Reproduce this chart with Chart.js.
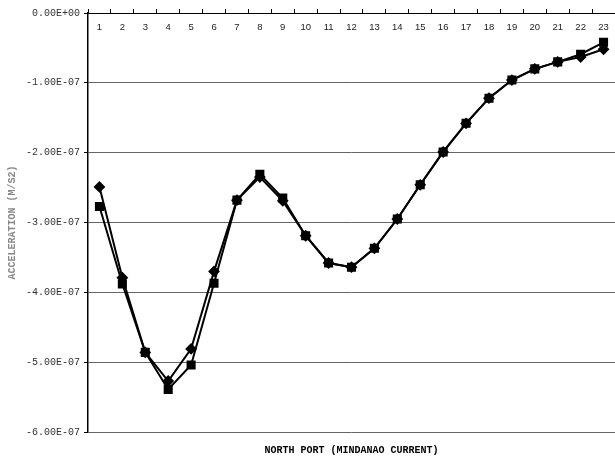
<!DOCTYPE html>
<html>
<head>
<meta charset="utf-8">
<script src="https://cdn.jsdelivr.net/npm/chart.js@4.4.1/dist/chart.umd.min.js"></script>
<style>
    body { margin: 0; background: #fff; }
    #chart { display: block; }
</style>
</head>
<body>
<canvas id="chart" width="615" height="462"></canvas>
<script>
// Categories and series values (units of 1e-7)
const categories = ['1','2','3','4','5','6','7','8','9','10','11','12','13','14','15','16','17','18','19','20','21','22','23'];
const diamondSeries = [-2.49, -3.79, -4.86, -5.27, -4.81, -3.70, -2.68, -2.35, -2.69, -3.19, -3.58, -3.64, -3.37, -2.95, -2.46, -1.99, -1.58, -1.22, -0.96, -0.80, -0.70, -0.63, -0.52];
const squareSeries  = [-2.77, -3.88, -4.86, -5.39, -5.04, -3.87, -2.68, -2.31, -2.65, -3.19, -3.58, -3.64, -3.37, -2.95, -2.46, -1.99, -1.58, -1.22, -0.96, -0.80, -0.70, -0.59, -0.42];
const yTicks = [0, -1, -2, -3, -4, -5, -6];
const xTitle = 'NORTH PORT (MINDANAO CURRENT)';
const yTitle = 'ACCELERATION (M/S2)';

const scaleE7 = v => v * 1e-7;

function formatSci(v) {
    if (Math.abs(v) < 1e-20) return '0.00E+00';
    const [mant, exp] = v.toExponential(2).toUpperCase().split('E');
    const sign = exp[0] === '-' ? '-' : '+';
    const digits = exp.replace(/[+-]/, '').padStart(2, '0');
    return mant + 'E' + sign + digits;
}

// draws the category labels under the top axis line and the rotated y title
const innerLabels = {
    id: 'innerLabels',
    afterDraw(chart) {
        const ctx = chart.ctx;
        const x = chart.scales.x;
        const area = chart.chartArea;
        ctx.save();
        ctx.fillStyle = '#222';
        ctx.font = '9.5px "Liberation Sans", Arial, sans-serif';
        ctx.textAlign = 'center';
        ctx.textBaseline = 'middle';
        categories.forEach((c, i) => {
            ctx.fillText(c, x.getPixelForValue(i), area.top + 14);
        });
        ctx.translate(12, (area.top + area.bottom) / 2);
        ctx.rotate(-Math.PI / 2);
        ctx.fillStyle = '#888';
        ctx.font = 'bold 10px "Liberation Mono", "Courier New", monospace';
        ctx.fillText(yTitle, 0, 0);
        ctx.restore();
    }
};

const ctx = document.getElementById('chart').getContext('2d');
new Chart(ctx, {
    type: 'line',
    data: {
        labels: categories,
        datasets: [
            {
                label: 'A',
                data: diamondSeries.map(scaleE7),
                borderColor: '#000',
                backgroundColor: '#000',
                borderWidth: 2,
                pointStyle: 'rectRot',
                pointRadius: 4.5,
                tension: 0
            },
            {
                label: 'B',
                data: squareSeries.map(scaleE7),
                borderColor: '#000',
                backgroundColor: '#000',
                borderWidth: 2,
                pointStyle: 'rect',
                pointRadius: 5,
                tension: 0
            }
        ]
    },
    options: {
        responsive: false,
        animation: false,
        clip: false,
        layout: { autoPadding: false, padding: 0 },
        plugins: {
            legend: { display: false },
            tooltip: { enabled: false }
        },
        scales: {
            x: {
                position: 'top',
                offset: true,
                ticks: { display: false },
                grid: { offset: true, drawOnChartArea: false, tickLength: 4, tickColor: '#000' },
                border: { color: '#000', width: 1 },
                afterFit: s => { s.height = 13; }
            },
            x2: {
                type: 'category',
                labels: categories,
                position: 'bottom',
                ticks: { display: false },
                grid: { display: false },
                border: { display: false },
                title: {
                    display: true,
                    text: xTitle,
                    color: '#000',
                    font: { family: '"Liberation Mono", "Courier New", monospace', size: 10, weight: 'bold' },
                    padding: { top: 0, bottom: 6 }
                },
                afterFit: s => { s.height = 30; }
            },
            y: {
                min: scaleE7(-6),
                max: 0,
                afterBuildTicks: s => { s.ticks = yTicks.map(v => ({ value: scaleE7(v) })); },
                ticks: {
                    color: '#333',
                    padding: 4,
                    font: { family: '"Liberation Mono", "Courier New", monospace', size: 10 },
                    callback: v => formatSci(v)
                },
                grid: { color: '#666', tickLength: 4, tickColor: '#000' },
                border: { color: '#000', width: 1.5 },
                afterFit: s => { s.width = 88; }
            }
        }
    },
    plugins: [innerLabels]
});
</script>
</body>
</html>
